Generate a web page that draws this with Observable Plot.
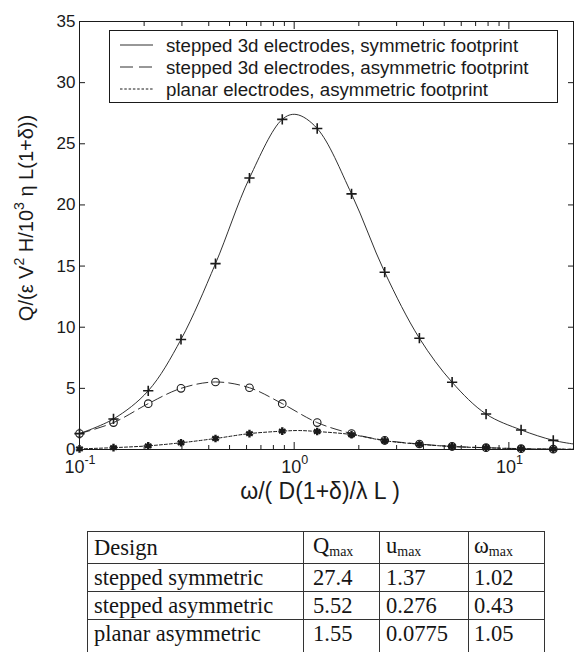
<!DOCTYPE html>
<html><head><meta charset="utf-8">
<script src="https://cdn.jsdelivr.net/npm/d3@7"></script>
<script src="https://cdn.jsdelivr.net/npm/@observablehq/plot@0.6"></script>
<style>
html,body{margin:0;padding:0;background:#fff;}
body{width:574px;height:652px;overflow:hidden;position:relative;font-family:"Liberation Sans",Arial,sans-serif;}
#chart{position:absolute;left:0;top:0;}
#tbl{position:absolute;left:87px;top:531px;border-collapse:collapse;font-family:"Liberation Serif","Times New Roman",serif;font-size:22.5px;color:#151515;}
#tbl td{border:1.5px solid #333;padding:0 0 0 6px;height:27px;line-height:22px;vertical-align:middle;white-space:nowrap;}
#tbl tr:first-child td{height:31px;}
#tbl tr:last-child td{height:60px;vertical-align:top;padding-top:3px;}
#tbl .sub{font-size:14px;position:relative;top:3px;}
</style></head><body>
<div id="chart"></div>
<table id="tbl"></table>
<script>
// ---- data ----
const omega      = [0.1, 0.144, 0.209, 0.297, 0.43, 0.619, 0.88, 1.28, 1.85, 2.64, 3.83, 5.44, 7.83, 11.4, 16.1];
const qSymmetric = [1.3, 2.5, 4.8, 9.0, 15.2, 22.2, 27.0, 26.25, 20.9, 14.5, 9.1, 5.5, 2.9, 1.6, 0.75];
const qAsymmetric= [1.3, 2.2, 3.75, 5.0, 5.52, 5.05, 3.75, 2.2, 1.3, 0.75, 0.45, 0.25, 0.15, 0.07, 0.03];
const qPlanar    = [0.05, 0.15, 0.3, 0.55, 0.9, 1.3, 1.5, 1.47, 1.22, 0.72, 0.43, 0.24, 0.14, 0.06, 0.03];
const omegaEnd = 20;
const qEnd = [0.45, 0.02, 0.02];

const legendLabels = ["stepped 3d electrodes, symmetric footprint",
                      "stepped 3d electrodes, asymmetric footprint",
                      "planar electrodes, asymmetric footprint"];

const designs = ["stepped symmetric", "stepped asymmetric", "planar asymmetric"];
const qMax    = ["27.4", "5.52", "1.55"];
const uMax    = ["1.37", "0.276", "0.0775"];
const wMax    = ["1.02", "0.43", "1.05"];

const yTicks = [0, 5, 10, 15, 20, 25, 30, 35];
const xMajor = [0.1, 1, 10];
const xMinor = [0.2,0.3,0.4,0.5,0.6,0.7,0.8,0.9,2,3,4,5,6,7,8,9,20];
const xTickExp = ["-1", "0", "1"];

// ---- build tables ----
const seriesQ = [qSymmetric, qAsymmetric, qPlanar];
const markers = seriesQ.map(q => omega.map((x, i) => ({x, y: q[i]})));
const lines = seriesQ.map((q, s) => {
  const pts = omega.map((x, i) => ({x, y: q[i]}));
  const wp = +wMax[s], qp = +qMax[s];
  if (!pts.some(p => Math.abs(p.x - wp) < 0.005)) pts.push({x: wp, y: qp});
  pts.push({x: omegaEnd, y: qEnd[s]});
  return pts.sort((a, b) => a.x - b.x);
});

const ink = "#1a1a1a";
const noText = () => "";
const plot = Plot.plot({
  width: 574, height: 505,
  marginLeft: 79, marginRight: 1, marginTop: 21, marginBottom: 56,
  x: {type: "log", domain: [0.1, 20]},
  y: {domain: [0, 35]},
  style: {fontFamily: "Liberation Sans, Arial, sans-serif", color: ink, background: "white", overflow: "visible"},
  marks: [
    Plot.line(lines[0], {x: "x", y: "y", curve: "catmull-rom", stroke: ink, strokeWidth: 0.9}),
    Plot.line(lines[1], {x: "x", y: "y", curve: "catmull-rom", stroke: ink, strokeWidth: 0.9, strokeDasharray: "11,5"}),
    Plot.line(lines[2], {x: "x", y: "y", curve: "catmull-rom", stroke: ink, strokeWidth: 1, strokeDasharray: "3,2"}),
    Plot.dot(markers[1], {x: "x", y: "y", symbol: "circle", r: 3.8, stroke: ink, strokeWidth: 1.1, fill: "none"}),
    Plot.dot(markers[2], {x: "x", y: "y", symbol: "asterisk", r: 3.6, stroke: ink, strokeWidth: 2.4}),
    Plot.dot(markers[0], {x: "x", y: "y", symbol: "plus", r: 3.4, stroke: ink, strokeWidth: 1.6}),
    Plot.frame({stroke: ink, strokeWidth: 1}),
    Plot.axisY({ticks: yTicks, tickSize: 0, tickPadding: 4, fontSize: 17, label: null}),
    Plot.axisY({ticks: yTicks, tickSize: 6, dx: 6, tickFormat: noText, label: null}),
    Plot.axisY({anchor: "right", ticks: yTicks, tickSize: 6, dx: -6, tickFormat: noText, label: null}),
    Plot.axisX({ticks: xMajor, tickSize: 7, dy: -7, tickFormat: noText, label: null}),
    Plot.axisX({ticks: xMinor, tickSize: 4, dy: -4, tickFormat: noText, label: null}),
    Plot.axisX({anchor: "top", ticks: xMajor, tickSize: 7, dy: 7, tickFormat: noText, label: null}),
    Plot.axisX({anchor: "top", ticks: xMinor, tickSize: 4, dy: 4, tickFormat: noText, label: null})
  ]
});
document.getElementById("chart").appendChild(plot);

const svg = d3.select(plot);
const sx = plot.scale("x");
const font = "Liberation Sans, Arial, sans-serif";

// x tick labels with superscript exponents
xMajor.forEach((v, i) => {
  const t = svg.append("text").attr("x", sx.apply(v) + 1).attr("y", 473)
    .attr("text-anchor", "middle").attr("font-family", font).attr("font-size", 18).attr("fill", ink);
  t.append("tspan").text("10");
  t.append("tspan").attr("dy", -9).attr("font-size", 12.5).text(xTickExp[i]);
});

// x label
svg.append("text").attr("x", 320).attr("y", 499).attr("text-anchor", "middle")
  .attr("font-family", font).attr("font-size", 23).attr("fill", ink)
  .text("ω/( D(1+δ)/λ L )");

// y label
const yl = svg.append("text").attr("transform", "translate(33,218) rotate(-90)")
  .attr("text-anchor", "middle").attr("font-family", font).attr("font-size", 20).attr("fill", ink);
yl.append("tspan").text("Q/(ε V");
yl.append("tspan").attr("dy", -9).attr("font-size", 14).text("2");
yl.append("tspan").attr("dy", 9).text(" H/10");
yl.append("tspan").attr("dy", -9).attr("font-size", 14).text("3");
yl.append("tspan").attr("dy", 9).text(" η L(1+δ))");

// legend
const lg = svg.append("g");
lg.append("rect").attr("x", 109.5).attr("y", 30.5).attr("width", 448).attr("height", 72)
  .attr("fill", "white").attr("stroke", ink).attr("stroke-width", 1);
const dashes = [null, "13,6", "2.5,1.8"];
legendLabels.forEach((lab, i) => {
  const yy = 45 + i * 22;
  lg.append("line").attr("x1", 120).attr("x2", 153).attr("y1", yy).attr("y2", yy)
    .attr("stroke", ink).attr("stroke-width", i === 2 ? 1 : 0.9).attr("stroke-dasharray", dashes[i]);
  lg.append("text").attr("x", 166).attr("y", yy).attr("dy", "0.36em").attr("text-anchor", "start")
    .attr("font-family", font).attr("font-size", 18.7).attr("fill", ink).text(lab);
});

// table
const tbl = d3.select("#tbl");
const hdr = tbl.append("tr");
hdr.append("td").style("width", "209px").text("Design");
[["Q", "max", "66px", "9px"], ["u", "max", "82px", "6px"], ["ω", "max", "70px", "5px"]].forEach(([a, b, w, p]) => {
  const td = hdr.append("td").style("width", w).style("padding-left", p);
  td.append("span").text(a);
  td.append("span").attr("class", "sub").text(b);
});
designs.forEach((d, i) => {
  const tr = tbl.append("tr");
  tr.append("td").text(d);
  tr.append("td").style("padding-left", "9px").text(qMax[i]);
  tr.append("td").style("padding-left", "6px").text(uMax[i]);
  tr.append("td").style("padding-left", "5px").text(wMax[i]);
});
</script>
</body></html>
